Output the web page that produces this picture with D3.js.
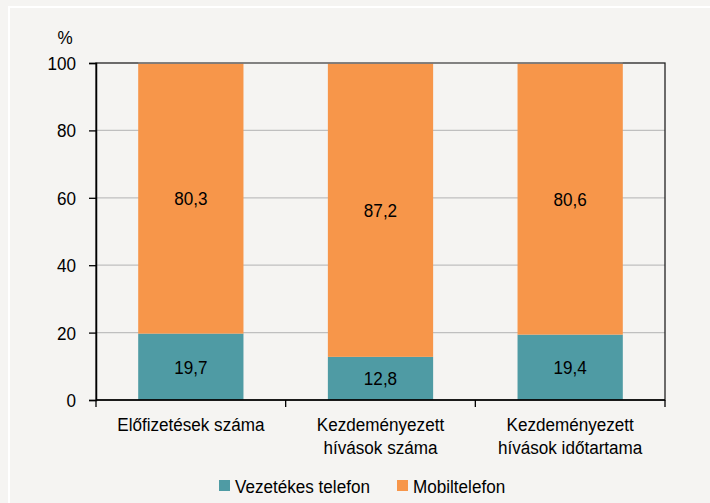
<!DOCTYPE html>
<html><head><meta charset="utf-8">
<script src="https://cdn.jsdelivr.net/npm/d3@7"></script>
<style>
html,body{margin:0;padding:0;background:#f5f4f2;}
svg{display:block;font-family:"Liberation Sans",Arial,sans-serif;}
</style></head>
<body>
<svg id="chart" width="710" height="503"></svg>
<script>
const categories = [["Előfizetések száma"], ["Kezdeményezett", "hívások száma"], ["Kezdeményezett", "hívások időtartama"]];
const seriesNames = ["Vezetékes telefon", "Mobiltelefon"];
const fixedValues = [19.7, 12.8, 19.4];
const mobileValues = [80.3, 87.2, 80.6];
const yTicks = [0, 20, 40, 60, 80, 100];
const colors = ["#4f9ba4", "#f7964a"];

const FS = 19, SX = 0.9;
const svg = d3.select("#chart");
function txt(parent, x, y, s, anchor) {
  return parent.append("text")
    .attr("transform", `translate(${x},${y}) scale(${SX},1)`)
    .attr("text-anchor", anchor || "middle")
    .attr("font-size", FS).attr("fill", "#000").text(s);
}

svg.append("rect").attr("x", 9).attr("y", 7).attr("width", 740).attr("height", 540)
  .attr("fill", "none").attr("stroke", "#ffffff").attr("stroke-width", 2);

const L = 96, R = 665, T = 63, B = 400;
const x = d3.scaleBand().domain(d3.range(categories.length)).range([L, R]).paddingInner(0.445).paddingOuter(0.2225);
const y = d3.scaleLinear().domain([0, 100]).range([B, T]);

// gridlines
svg.append("g").selectAll("line").data(yTicks.filter(t => t > 0 && t < 100)).join("line")
  .attr("x1", L).attr("x2", R).attr("y1", d => y(d)).attr("y2", d => y(d))
  .attr("stroke", "#bfbfbf").attr("stroke-width", 1.3);

const stacked = fixedValues.map((f, i) => [
  {s: 0, y0: 0, y1: f, v: f, i},
  {s: 1, y0: f, y1: f + mobileValues[i], v: mobileValues[i], i}
]).flat();

svg.append("g").selectAll("rect").data(stacked).join("rect")
  .attr("x", d => x(d.i)).attr("width", x.bandwidth())
  .attr("y", d => y(Math.min(d.y1, 100))).attr("height", d => y(d.y0) - y(Math.min(d.y1, 100)))
  .attr("fill", d => colors[d.s]);

const vl = svg.append("g");
stacked.forEach(d => {
  txt(vl, x(d.i) + x.bandwidth() / 2, (y(d.y0) + y(Math.min(d.y1, 100))) / 2 + 7,
      d3.format(".1f")(d.v).replace(".", ","));
});

// frame
svg.append("rect").attr("x", L).attr("y", T).attr("width", R - L).attr("height", B - T)
  .attr("fill", "none").attr("stroke", "#222").attr("stroke-width", 1.3);
svg.append("line").attr("x1", x(0)).attr("x2", x(2) + x.bandwidth()).attr("y1", T).attr("y2", T)
  .attr("stroke", "#8a8a8a").attr("stroke-width", 1.3);

// y axis
const yAxis = d3.axisLeft(y).tickValues(yTicks).tickSize(7).tickFormat("");
const gy = svg.append("g").attr("transform", `translate(${L},0)`).call(yAxis);
gy.select(".domain").attr("stroke", "#000").attr("stroke-width", 1.5);
gy.selectAll(".tick line").attr("stroke", "#000").attr("stroke-width", 1.3);
const yl = svg.append("g");
yTicks.forEach(t => txt(yl, 76, y(t) + 7, d3.format("d")(t), "end"));

// x axis: ticks at category boundaries
const step = x.step();
const bounds = d3.range(categories.length + 1).map(i => L + i * step);
const gx = svg.append("g");
gx.append("line").attr("x1", L).attr("x2", R).attr("y1", B).attr("y2", B).attr("stroke", "#000").attr("stroke-width", 1.5);
gx.selectAll("line.t").data(bounds).join("line").attr("class", "t")
  .attr("x1", d => d).attr("x2", d => d).attr("y1", B).attr("y2", B + 7)
  .attr("stroke", "#000").attr("stroke-width", 1.3);
categories.forEach((lines, i) => {
  lines.forEach((t, j) => txt(gx, x(i) + x.bandwidth() / 2, 431 + j * 23, t));
});

txt(svg, 65, 44, "%");

// legend
const legendItems = [{name: seriesNames[0], c: colors[0], x: 219}, {name: seriesNames[1], c: colors[1], x: 397}];
const lg = svg.append("g");
lg.selectAll("rect").data(legendItems).join("rect")
  .attr("x", d => d.x).attr("y", 480).attr("width", 11).attr("height", 11).attr("fill", d => d.c);
legendItems.forEach(d => txt(lg, d.x + 16, 493, d.name, "start"));
</script>
</body></html>
